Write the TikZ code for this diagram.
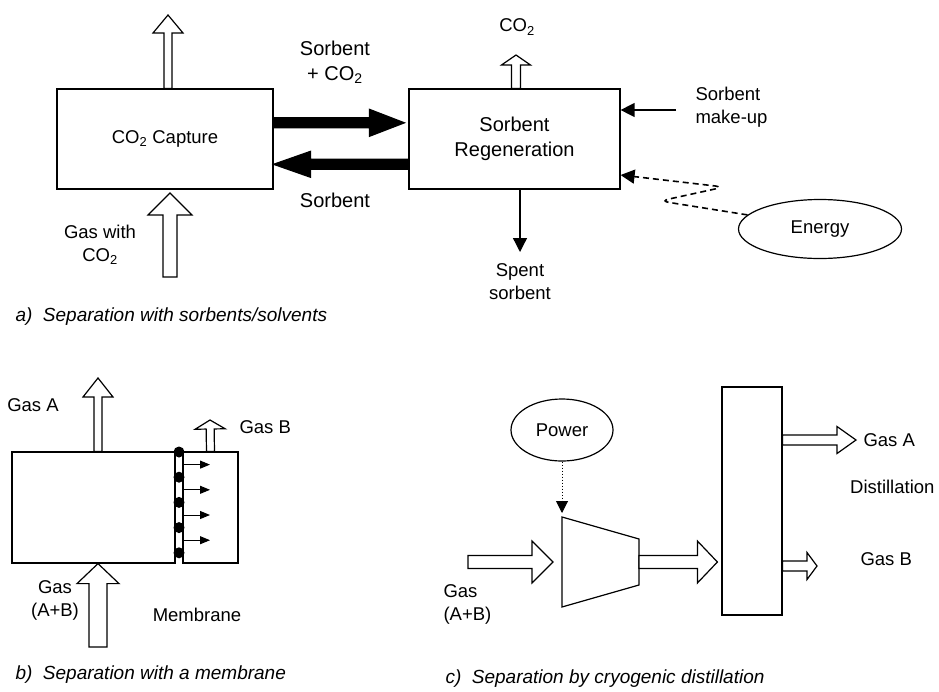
\documentclass[tikz,border=0pt]{standalone}
\usepackage{fontspec}
\setmainfont{Liberation Sans}
\usetikzlibrary{arrows.meta, positioning, calc, shapes.geometric}

\tikzset{
  % block arrow between two points: shaft half width, head half width, head length
  blockarrow/.style n args={3}{
    to path={
      let \p1=(\tikztostart), \p2=(\tikztotarget),
          \n1={atan2(\y2-\y1,\x2-\x1)},
          \n2={veclen(\x2-\x1,\y2-\y1)}
      in {[shift={(\p1)}, rotate=\n1]
        (0pt,-#1pt) -- ({\n2-#3pt},-#1pt) -- ({\n2-#3pt},-#2pt)
        -- ({\n2},0pt) -- ({\n2-#3pt},#2pt) -- ({\n2-#3pt},#1pt)
        -- (0pt,#1pt) -- cycle}
    }
  },
}

\begin{document}
\begin{tikzpicture}[x=1pt, y=-1pt,
    every node/.style={font=\fontsize{18.5}{23}\selectfont},
    unitbox/.style={draw, line width=1.2pt, inner sep=0pt},
    oval/.style={draw, ellipse, line width=1.2pt, inner sep=0pt},
    hollow/.style n args={3}{draw, line width=1.2pt, fill=white, blockarrow={#1}{#2}{#3}},
    heavy/.style n args={3}{draw, line width=1.2pt, fill=black, blockarrow={#1}{#2}{#3}},
    thinarrow/.style={line width=1.3pt, -{Triangle[length=14pt, width=14pt]}},
    tinyarrow/.style={line width=1pt, -{Triangle[length=10pt, width=8pt]}},
    bigtext/.style={font=\fontsize{20}{25}\selectfont, align=center},
    caption/.style={anchor=west, font=\fontsize{19}{23}\selectfont\itshape},
]
\useasboundingbox (0,0) rectangle (939,691);

% === a) Sorbents / solvents ===
\node[unitbox, minimum width=216pt, minimum height=100pt] (capture) at (165,139) {CO\textsubscript{2} Capture};
\node[unitbox, minimum width=211pt, minimum height=100pt, bigtext] (regen) at (514.5,139) {Sorbent\\Regeneration};

\coordinate (capvent) at (168,15);
\coordinate (gasin) at (170,277);
\coordinate (gasintip) at (170,193);
\draw[hollow={4}{15}{18}] ([xshift=3pt]capture.north) to (capvent);
\draw[hollow={7}{22}{22}] (gasin) to (gasintip);
\node[align=center] (gaswith) at (100,245) {Gas with\\CO\textsubscript{2}};

% loaded and lean sorbent
\draw[heavy={5}{13.5}{35}] ($(capture.north east)!0.34!(capture.south east)$)
    to ($(regen.north west)!0.34!(regen.south west)+(-4,0)$);
\draw[heavy={5}{13}{37}] ($(regen.north west)!0.75!(regen.south west)$)
    to ($(capture.north east)!0.75!(capture.south east)$);
\node[bigtext] (sorbco2) at (335,62) {Sorbent\\+ CO\textsubscript{2}};
\node[bigtext] (sorblean) at (335,200) {Sorbent};

\coordinate (regvent) at (516,55);
\draw[hollow={4.5}{14.5}{10}] ([xshift=1.5pt]regen.north) to (regvent);
\node (co2out) at (517,27) {CO\textsubscript{2}};

\coordinate (spent) at (520,252);
\draw[thinarrow] ([xshift=5.5pt]regen.south) -- (spent);
\node[align=center] (spentlbl) at (520,282) {Spent\\sorbent};

\coordinate (makeup) at (676,110);
\draw[thinarrow] (makeup) -- (makeup -| regen.east);
\node[anchor=west, align=left] (makeuplbl) at (692,107) {Sorbent\\make-up};

\node[oval, minimum width=163pt, minimum height=59pt] (energy) at (820,229) {Energy};
\draw[thinarrow, line width=1.6pt, dash pattern=on 6pt off 4pt, rounded corners=9pt]
    (energy.169) -- (660,201) -- (724,187) -- (regen.east |- 0,175);

\node[caption] (capa) at (12,317) {a)\ \ Separation with sorbents/solvents};

% === b) Membrane ===
\node[unitbox, minimum width=163pt, minimum height=111pt] (memleft) at (93.5,507.5) {};
\node[unitbox, minimum width=55pt, minimum height=111pt] (memright) at (210.5,507.5) {};
\foreach \i in {0,...,4}
  \node[fill, circle, inner sep=0pt, minimum size=11pt] (dot\i) at (179,{452+25.2*\i}) {};
\foreach \i/\j in {0/1,1/2,2/3,3/4}
  \draw[tinyarrow] ($(dot\i)!0.5!(dot\j)+(4,0)$) -- ++(27,0);

\coordinate (gasAtop) at (98,378);
\draw[hollow={4}{15}{19}] ([xshift=4.5pt]memleft.north) to (gasAtop);
\node (gasAlbl) at (33,405) {Gas A};
\coordinate (gasBtop) at (210,420);
\draw[hollow={4}{15}{9}] (memright.north) to (gasBtop);
\node[anchor=west] (gasBlbl) at (236,427) {Gas B};
\coordinate (gasABin) at (98,647);
\draw[hollow={9}{21}{20}] (gasABin) to ([xshift=4.5pt]memleft.south);
\node[align=center] (gasABlbl) at (55,600) {Gas\\(A+B)};
\node (memlbl) at (197,615) {Membrane};

\node[caption] (capb) at (12,675) {b)\ \ Separation with a membrane};

% === c) Cryogenic distillation ===
\node[oval, minimum width=102pt, minimum height=62pt] (power) at (562,430) {Power};
\coordinate (compA) at (562,517);
\coordinate (compB) at (639,539);
\coordinate (compC) at (639,585);
\coordinate (compD) at (562,607);
\coordinate (compin) at ($(compA)!0.5!(compD)$);
\coordinate (compout) at ($(compB)!0.5!(compC)$);
\draw[line width=1.2pt] (compA) -- (compB) -- (compC) -- (compD) -- cycle;
\draw[line width=1pt, dotted, -{Triangle[length=12pt, width=12pt]}] (power.south) -- ([yshift=4pt]compA);

\coordinate (gasin2) at (468,562);
\draw[hollow={6.5}{21}{21}] (gasin2) to ([xshift=-9pt]compin);
\node[anchor=west, align=left] (gasAB2lbl) at (440,604) {Gas\\(A+B)};

\node[unitbox, minimum width=60pt, minimum height=228pt] (column) at (752,501) {};
\draw[hollow={6.5}{21}{20}] (compout) to ($(column.west |- compout)+(-4,0)$);

\coordinate (colA) at (856,440);
\coordinate (colB) at (817,566);
\draw[hollow={5}{13.5}{19}] (column.east |- colA) to (colA);
\draw[hollow={5}{13.5}{10}] (column.east |- colB) to (colB);
\node[anchor=west] (colAlbl) at (860,440) {Gas A};
\node[anchor=east] (distlbl) at (938,487) {Distillation};
\node[anchor=west] (colBlbl) at (857,559) {Gas B};

\node[caption] (capc) at (442,679) {c)\ \ Separation by cryogenic distillation};
\end{tikzpicture}
\end{document}
